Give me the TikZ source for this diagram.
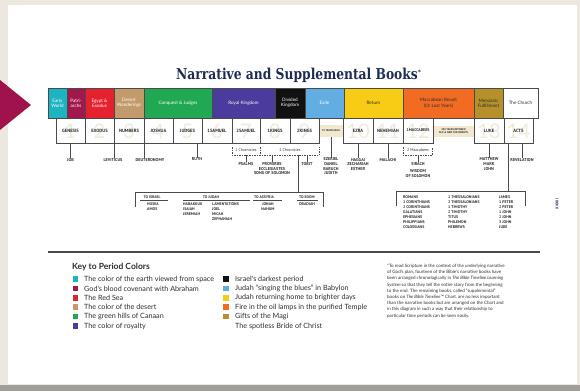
\documentclass[tikz,border=0pt]{standalone}
\usepackage{fontspec}
\setmainfont{Lato}
\newfontfamily\titlefont{DejaVu Serif}
\newfontfamily\labfont{PT Sans}
\newfontfamily\keyfont{Lato}
\definecolor{bgc}{HTML}{EDE8DF}
\definecolor{bandc}{HTML}{A29E99}
\definecolor{arrowc}{HTML}{A0124C}
\definecolor{navy}{HTML}{1E2B55}
\definecolor{linec}{HTML}{4A4A4A}
\definecolor{textc}{HTML}{2E2E2E}
\definecolor{wmc}{HTML}{F1EADC}
\definecolor{bandfill}{HTML}{F2E7CF}
\definecolor{cteal}{HTML}{1DB3C1}
\definecolor{cmaroon}{HTML}{A3184C}
\definecolor{cred}{HTML}{E6212E}
\definecolor{ctan}{HTML}{C39A6B}
\definecolor{cgreen}{HTML}{21A852}
\definecolor{cindigo}{HTML}{4A3B9C}
\definecolor{cblack}{HTML}{111111}
\definecolor{cblue}{HTML}{62AEE3}
\definecolor{cyellow}{HTML}{F8CB15}
\definecolor{corange}{HTML}{F26B22}
\definecolor{cgold}{HTML}{B5902B}
\begin{document}
\begin{tikzpicture}[x=1pt,y=-1pt,
  period/.style={draw=linec, line width=0.5pt, minimum height=30pt, inner sep=0pt, align=center,
    font=\keyfont\fontsize{4.6}{5.3}\selectfont, text=white},
  book/.style={draw=linec, line width=0.5pt, minimum height=25pt, inner sep=0pt,
    font=\labfont\bfseries\fontsize{4.6}{5}\selectfont, text=textc},
  wm/.style={font=\keyfont\fontsize{20}{20}\selectfont, text=wmc, inner sep=0pt},
  yband/.style={fill=bandfill, inner sep=0pt, align=center,
    font=\labfont\bfseries\fontsize{2.6}{3}\selectfont, text=textc},
  lab/.style={font=\labfont\bfseries\fontsize{4.2}{4.6}\selectfont, text=textc, inner sep=0.3pt,
    align=center, anchor=north},
  chr/.style={font=\labfont\fontsize{4}{4.5}\selectfont, text=textc, inner sep=0pt},
  hd/.style={font=\labfont\bfseries\fontsize{3.8}{4.5}\selectfont, text=textc, inner sep=0pt},
  pl/.style={font=\labfont\bfseries\fontsize{3.9}{5}\selectfont, text=textc, inner sep=0pt,
    align=left, anchor=north west},
  conn/.style={draw=linec, line width=0.6pt},
  dconn/.style={conn, dash pattern=on 1.5pt off 1pt},
  sq/.style={minimum size=5.5pt, inner sep=0pt},
  keyt/.style={anchor=west, inner sep=0pt, font=\keyfont\fontsize{7.2}{7.6}\selectfont, text=textc}
]
\useasboundingbox (0,0) rectangle (580,391);
\fill[bgc] (0,0) rectangle (580,391);
\fill[white] (8,5) rectangle (577,384);
\fill[bandc] (0,384.5) rectangle (580,391);
\fill[arrowc] (0,80) -- (31,105) -- (0,130) -- cycle;

% title
\node[anchor=base west, inner sep=0pt, text=navy] (title) at (176,79.5)
  {\scalebox{0.82}[1]{\titlefont\bfseries\fontsize{15}{15}\selectfont Narrative and Supplemental Books}\raisebox{5pt}{\titlefont\bfseries\fontsize{6}{6}\selectfont *}};

% periods
\node[period, fill=cteal, minimum width=19pt] (p1) at (57.5,103) {Early\\World};
\node[period, fill=cmaroon, minimum width=18pt] (p2) at (76,103) {Patri-\\archs};
\node[period, fill=cred, minimum width=29pt] (p3) at (99.5,103) {Egypt \&\\Exodus};
\node[period, fill=ctan, minimum width=30pt] (p4) at (129,103) {Desert\\Wanderings};
\node[period, fill=cgreen, minimum width=68pt] (p5) at (178,103) {Conquest \& Judges};
\node[period, fill=cindigo, minimum width=63pt] (p6) at (243.5,103) {Royal Kingdom};
\node[period, fill=cblack, minimum width=30pt] (p7) at (290,103) {Divided\\Kingdom};
\node[period, fill=cblue, minimum width=39pt] (p8) at (324.5,103) {Exile};
\node[period, fill=cyellow, minimum width=59pt, text=textc] (p9) at (373.5,103) {Return};
\node[period, fill=corange, minimum width=71pt, text=textc] (p10) at (438.5,103) {Maccabean Revolt\\(Or Lost Years)};
\node[period, fill=cgold, minimum width=29pt, text=textc] (p11) at (488.5,103) {Messianic\\Fulfillment};
\node[period, fill=white, minimum width=35pt, text=textc] (p12) at (520.5,103) {The Church};

% watermark numbers
\node[wm] (w1) at (70.5,131) {1};
\node[wm] (w2) at (99.5,131) {2};
\node[wm] (w3) at (129,131) {3};
\node[wm] (w4) at (158.5,131) {4};
\node[wm] (w5) at (187.5,131) {5};
\node[wm] (w6) at (217,131) {6};
\node[wm] (w7) at (246,131) {7};
\node[wm] (w8) at (275,131) {8};
\node[wm] (w9) at (304.5,131) {9};
\node[wm] (w10) at (358,131) {10};
\node[wm] (w11) at (388,131) {11};
\node[wm] (w12) at (418,131) {12};
\node[wm] (w13) at (489,131) {13};
\node[wm] (w14) at (518.5,131) {14};

% books
\node[book, minimum width=29pt] (genesis) at (70.5,130.5) {GENESIS};
\node[book, minimum width=29pt] (exodus) at (99.5,130.5) {EXODUS};
\node[book, minimum width=30pt] (numbers) at (129,130.5) {NUMBERS};
\node[book, minimum width=29pt] (joshua) at (158.5,130.5) {JOSHUA};
\node[book, minimum width=29pt] (judges) at (187.5,130.5) {JUDGES};
\node[book, minimum width=30pt] (samuel1) at (217,130.5) {1SAMUEL};
\node[book, minimum width=28pt] (samuel2) at (246,130.5) {2SAMUEL};
\node[book, minimum width=30pt] (kings1) at (275,130.5) {1KINGS};
\node[book, minimum width=29pt] (kings2) at (304.5,130.5) {2KINGS};
\node[yband, minimum width=23pt, minimum height=12pt] (exile70) at (331,131) {70 YEARS EXILE};
\node[book, minimum width=30pt] (ezra) at (358,130.5) {EZRA};
\node[book, minimum width=30pt] (nehemiah) at (388,130.5) {NEHEMIAH};
\node[book, minimum width=30pt, font=\labfont\bfseries\fontsize{4}{5}\selectfont] (macc1) at (418,130.5) {1MACCABEES};
\node[yband, minimum width=40pt, minimum height=11pt] (yrs400) at (453.5,131.5) {400 YEARS BETWEEN\\OLD \& NEW TESTAMENTS};
\node[book, minimum width=30pt] (luke) at (489,130.5) {LUKE};
\node[book, minimum width=29pt] (acts) at (518.5,130.5) {ACTS};

% first row of supplemental books
\node[lab] (job) at (70.5,157.5) {JOB};
\draw[conn] (genesis.south) -- (job.north);
\node[lab] (leviticus) at (113,157.5) {LEVITICUS};
\draw[conn] (exodus.south east) -- (exodus.south east |- leviticus.north);
\node[lab] (deut) at (150,157.5) {DEUTERONOMY};
\draw[conn] (numbers.south east) -- (numbers.south east |- deut.north);
\node[lab] (ruth) at (197,157.5) {RUTH};
\draw[conn] (ruth.north |- judges.south) -- (ruth.north);

% chronicles bracket
\coordinate (chrL) at (232,155);
\coordinate (chrM) at (260.5,155);
\coordinate (chrR) at (319,155);
\draw[dconn] ([yshift=8pt]chrL) -- (chrL) -- (chrR) -- ([yshift=8pt]chrR);
\draw[dconn] ([yshift=8pt]chrM) -- (chrM);
\node[chr] (chr1) at (246,150.5) {1 Chronicles};
\node[chr] (chr2) at (290,150.5) {2 Chronicles};
\node[lab] (psalms) at (246,162) {PSALMS};
\draw[conn] (psalms.north |- chrL) -- (psalms.north);
\node[lab] (proverbs) at (272,162) {PROVERBS\\ECCLESIASTES\\SONG OF SOLOMON};
\draw[conn] (proverbs.north |- chrL) -- (proverbs.north);
\node[lab] (tobit) at (307,162) {TOBIT};
\draw[conn] (tobit.north |- chrL) -- (tobit.north);
\coordinate (proph) at (298,192);
\draw[conn] (proph |- chrL) -- (proph);

% exile and return
\node[lab] (ezekiel) at (331,157.5) {EZEKIEL\\DANIEL\\BARUCH\\JUDITH};
\draw[conn] (exile70.south) -- (ezekiel.north);
\node[lab] (haggai) at (358,157.5) {HAGGAI\\ZECHARIAH\\ESTHER};
\draw[conn] (ezra.south) -- (haggai.north);
\node[lab] (malachi) at (388,157.5) {MALACHI};
\draw[conn] (nehemiah.south) -- (malachi.north);

% maccabees bracket
\coordinate (macL) at (403,155);
\coordinate (macR) at (432,155);
\draw[dconn] ([yshift=8pt]macL) -- (macL) -- (macR) -- ([yshift=8pt]macR);
\node[chr] (mac2) at (418,150.5) {2 Maccabees};
\node[lab] (sirach) at (418,162) {SIRACH\\[2.5pt]WISDOM\\OF SOLOMON};
\draw[conn] (sirach.north |- macL) -- (sirach.north);

% gospels
\node[lab] (matthew) at (489,157.5) {MATTHEW\\MARK\\JOHN};
\draw[conn] (luke.south) -- (matthew.north);
\node[lab] (revelation) at (522,157.5) {REVELATION};
\draw[conn] (revelation.north |- acts.south) -- (revelation.north);
\coordinate (epi) at (508,191);
\draw[conn] (epi |- acts.south) -- (epi);

% prophets bracket
\draw[conn] (135,207) -- (135,192) -- (323,192) -- (323,207);
\node[hd] (toisrael) at (152,197.5) {TO ISRAEL};
\node[hd] (tojudah) at (211,197.5) {TO JUDAH};
\node[hd] (toassyria) at (264,197.5) {TO ASSYRIA};
\node[hd] (toedom) at (307,197.5) {TO EDOM};
\draw[linec, line width=0.35pt] (140,200.5) -- (168,200.5);
\draw[linec, line width=0.35pt] (183,200.5) -- (250,200.5);
\draw[linec, line width=0.35pt] (253,200.5) -- (282,200.5);
\draw[linec, line width=0.35pt] (297,200.5) -- (318,200.5);
\node[pl] (hosea) at (147,203) {HOSEA\\AMOS};
\node[pl] (habakkuk) at (183,203) {HABAKKUK\\ISAIAH\\JEREMIAH};
\node[pl] (lament) at (212,203) {LAMENTATIONS\\JOEL\\MICAH\\ZEPHANIAH};
\node[pl, align=center, anchor=north] (jonah) at (268,203) {JONAH\\NAHUM};
\node[pl, align=center, anchor=north] (obadiah) at (307,203) {OBADIAH};

% epistles bracket
\draw[conn] (396,206) -- (epi -| 396,0) -- (epi -| 525,0) -- (525,206);
\node[pl] (romans) at (403,195.3) {ROMANS\\1 CORINTHIANS\\2 CORINTHIANS\\GALATIANS\\EPHESIANS\\PHILIPPIANS\\COLOSSIANS};
\node[pl] (thess) at (448,195.3) {1 THESSALONIANS\\2 THESSALONIANS\\1 TIMOTHY\\2 TIMOTHY\\TITUS\\PHILEMON\\HEBREWS};
\node[pl] (james) at (499,195.3) {JAMES\\1 PETER\\2 PETER\\1 JOHN\\2 JOHN\\3 JOHN\\JUDE};

\node[rotate=90, inner sep=0pt, font=\labfont\bfseries\fontsize{3.8}{4}\selectfont, text=navy] (pg) at (557,204) {XXXIII};

% rule
\draw[line width=2pt, linec] (48,252) -- (540,252);

% key
\node[anchor=west, inner sep=0pt, font=\keyfont\bfseries\fontsize{8.5}{9}\selectfont, text=textc] (keytitle) at (72,267) {Key to Period Colors};
\node[sq, fill=cteal] (k1) at (75.5,279) {};
\node[keyt] (kt1) at (84,279) {The color of the earth viewed from space};
\node[sq, fill=cmaroon] (k2) at (75.5,288.5) {};
\node[keyt] (kt2) at (84,288.5) {God's blood covenant with Abraham};
\node[sq, fill=cred] (k3) at (75.5,297.8) {};
\node[keyt] (kt3) at (84,297.8) {The Red Sea};
\node[sq, fill=ctan] (k4) at (75.5,307.2) {};
\node[keyt] (kt4) at (84,307.2) {The color of the desert};
\node[sq, fill=cgreen] (k5) at (75.5,316.5) {};
\node[keyt] (kt5) at (84,316.5) {The green hills of Canaan};
\node[sq, fill=cindigo] (k6) at (75.5,326) {};
\node[keyt] (kt6) at (84,326) {The color of royalty};
\node[sq, fill=cblack] (k7) at (226,279) {};
\node[keyt] (kt7) at (235,279) {Israel's darkest period};
\node[sq, fill=cblue] (k8) at (226,288.5) {};
\node[keyt] (kt8) at (235,288.5) {Judah “singing the blues” in Babylon};
\node[sq, fill=cyellow] (k9) at (226,297.8) {};
\node[keyt] (kt9) at (235,297.8) {Judah returning home to brighter days};
\node[sq, fill=corange] (k10) at (226,307.2) {};
\node[keyt] (kt10) at (235,307.2) {Fire in the oil lamps in the purified Temple};
\node[sq, fill=cgold] (k11) at (226,316.5) {};
\node[keyt] (kt11) at (235,316.5) {Gifts of the Magi};
\node[sq, fill=white] (k12) at (226,326) {};
\node[keyt] (kt12) at (235,326) {The spotless Bride of Christ};

% footnote
\node[anchor=north west, inner sep=0pt, align=left, text=textc,
  font=\keyfont\fontsize{4.5}{6.2}\selectfont] (note) at (387,264)
  {*To read Scripture in the context of the underlying narrative\\
   of God's plan, fourteen of the Bible's narrative books have\\
   been arranged chronologically in \textit{The Bible Timeline Learning}\\
   \textit{System} so that they tell the entire story from the beginning\\
   to the end. The remaining books, called “supplemental”\\
   books on \textit{The Bible Timeline}™ Chart, are no less important\\
   than the narrative books but are arranged on the Chart and\\
   in this diagram in such a way that their relationship to\\
   particular time periods can be seen easily.};
\end{tikzpicture}
\end{document}
